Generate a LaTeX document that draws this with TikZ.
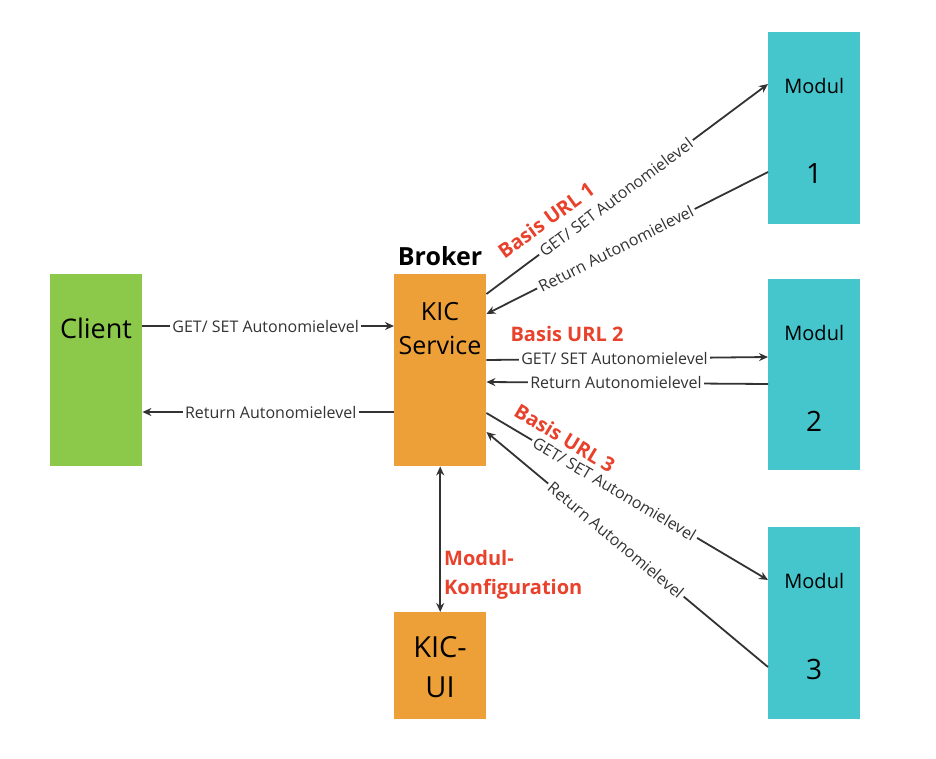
\documentclass[tikz,border=0pt]{standalone}
\usepackage{fontspec}
\setmainfont{Open Sans}
\usetikzlibrary{arrows.meta,calc}
\definecolor{cgreen}{HTML}{8CC94B}
\definecolor{corange}{HTML}{EDA038}
\definecolor{cteal}{HTML}{45C5CC}
\definecolor{cred}{HTML}{E8412C}
\definecolor{cline}{HTML}{333333}
\tikzset{
  box/.style={draw=none,minimum width=92pt,inner sep=0pt,anchor=north west},
  conn/.style={draw=cline,line width=1.8pt,-{Stealth[length=9pt,width=8pt]}},
  dconn/.style={draw=cline,line width=1.8pt,{Stealth[length=9pt,width=8pt]}-{Stealth[length=9pt,width=8pt]}},
  lbl/.style={fill=white,inner sep=2.5pt,text=cline,font=\fontsize{16}{18}\selectfont},
  red/.style={text=cred,font=\bfseries\fontsize{20}{29}\selectfont,inner sep=0pt},
}
\begin{document}
\begin{tikzpicture}[x=1pt,y=-1pt]
\useasboundingbox (0,0) rectangle (936,758);
% boxes
\node[box,fill=cgreen,minimum height=192pt] (client) at (50,274) {};
\node[box,fill=corange,minimum height=192pt] (kic) at (394,274) {};
\node[box,fill=corange,minimum height=107pt] (ui) at (394,612) {};
\node[box,fill=cteal,minimum height=192pt] (m1) at (768,32) {};
\node[box,fill=cteal,minimum height=191pt] (m2) at (768,279) {};
\node[box,fill=cteal,minimum height=192pt] (m3) at (768,527) {};
% texts
\node[font=\fontsize{27}{30}\selectfont] (tclient) at (96,328) {Client};
\node[font=\fontsize{25}{34}\selectfont,align=center] (tkic) at (440,329) {KIC\\Service};
\node[font=\bfseries\fontsize{25}{28}\selectfont] (broker) at (440,256) {Broker};
\node[font=\fontsize{29}{40}\selectfont,align=center] (tui) at (440,667) {KIC-\\UI};
\foreach \m/\n in {m1/1,m2/2,m3/3}{
  \node[font=\fontsize{20}{22}\selectfont] (\m t) at ($(\m.north)+(0,54)$) {Modul};
  \node[font=\fontsize{28}{30}\selectfont] (\m n) at ($(\m.north)+(0,142)$) {\n};
}
% coordinates
\coordinate (cg) at ($(client.north east)+(0,52)$);
\coordinate (cr) at ($(client.north east)+(0,138)$);
\coordinate (kg) at ($(kic.north west)+(0,52)$);
\coordinate (kr) at ($(kic.north west)+(0,138)$);
\coordinate (k1g) at ($(kic.north east)+(0,20)$);
\coordinate (k1r) at ($(kic.north east)+(0,40)$);
\coordinate (k2g) at ($(kic.north east)+(0,86)$);
\coordinate (k2r) at ($(kic.north east)+(0,108)$);
\coordinate (k3g) at ($(kic.north east)+(0,139)$);
\coordinate (k3r) at ($(kic.north east)+(0,158)$);
\coordinate (m1g) at ($(m1.north west)+(0,52)$);
\coordinate (m1r) at ($(m1.north west)+(0,140)$);
\coordinate (m2g) at ($(m2.north west)+(0,78)$);
\coordinate (m2r) at ($(m2.north west)+(0,105)$);
\coordinate (m3g) at ($(m3.north west)+(0,53)$);
\coordinate (m3r) at ($(m3.north west)+(0,140)$);
% connectors
\draw[conn] (cg) -- node[lbl,pos=0.49] {GET/ SET Autonomielevel} (kg);
\draw[conn] (kr) -- node[lbl,pos=0.49] {Return Autonomielevel} (cr);
\draw[conn] (k1g) -- node[lbl,sloped,pos=0.46] {GET/ SET Autonomielevel} (m1g);
\draw[conn] (m1r) -- node[lbl,sloped,pos=0.54] {Return Autonomielevel} (k1r);
\draw[conn] (k2g) -- node[lbl,pos=0.455] {GET/ SET Autonomielevel} (m2g);
\draw[conn] (m2r) -- node[lbl,pos=0.54] {Return Autonomielevel} (k2r);
\draw[conn] (k3g) -- node[lbl,sloped,pos=0.455] {GET/ SET Autonomielevel} (m3g);
\draw[conn] (m3r) -- node[lbl,sloped,pos=0.54] {Return Autonomielevel} (k3r);
\draw[dconn] (kic.south) -- (ui.north);
% red labels
\node[red,rotate=36] (b1) at (546,220) {Basis URL 1};
\node[red] (b2) at (567,334) {Basis URL 2};
\node[red,rotate=-31] (b3) at (565,438) {Basis URL 3};
\node[red,align=left,anchor=west] (mk) at (444,575) {Modul-\\Konfiguration};
\end{tikzpicture}
\end{document}
